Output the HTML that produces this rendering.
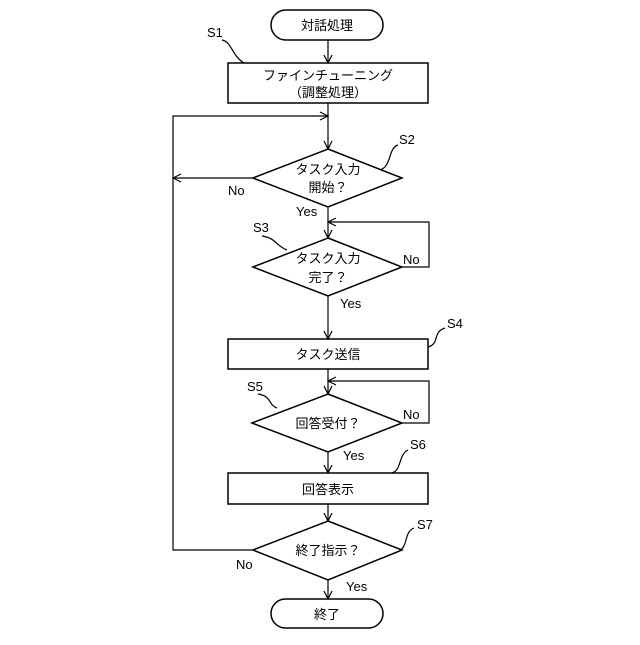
<!DOCTYPE html>
<html><head><meta charset="utf-8"><style>
body{margin:0;background:#fff}
svg text{font-family:"Liberation Sans","Noto Sans CJK JP",sans-serif;font-size:13px;fill:#000}
</style></head><body>
<svg width="640" height="640" viewBox="0 0 640 640" xmlns="http://www.w3.org/2000/svg">
<defs><marker id="a" markerWidth="10" markerHeight="10" refX="9" refY="5" orient="auto" markerUnits="userSpaceOnUse"><path d="M1,1 L9,5 L1,9" fill="none" stroke="#000" stroke-width="1.2"/></marker></defs>
<g fill="none" stroke="#000" stroke-width="1.5">
<rect x="271" y="10" width="112" height="30" rx="15"/>
<rect x="228" y="63" width="200" height="40"/>
<polygon points="328,149 402,178 328,207 253,178"/>
<polygon points="328,238 402,267 328,296 253,267"/>
<rect x="228" y="339" width="200" height="30"/>
<polygon points="328,394 402,423 328,452 252,423"/>
<rect x="228" y="473" width="200" height="31"/>
<polygon points="328,521 402,550 328,580 253,550"/>
<rect x="271" y="599" width="112" height="29" rx="14.5"/>
</g>
<g fill="none" stroke="#000" stroke-width="1.2">
<line x1="328" y1="40" x2="328" y2="63" marker-end="url(#a)"/>
<line x1="328" y1="103" x2="328" y2="149" marker-end="url(#a)"/>
<line x1="328" y1="207" x2="328" y2="238" marker-end="url(#a)"/>
<line x1="328" y1="296" x2="328" y2="339" marker-end="url(#a)"/>
<line x1="328" y1="369" x2="328" y2="394" marker-end="url(#a)"/>
<line x1="328" y1="452" x2="328" y2="473" marker-end="url(#a)"/>
<line x1="328" y1="504" x2="328" y2="521" marker-end="url(#a)"/>
<line x1="328" y1="580" x2="328" y2="599" marker-end="url(#a)"/>
<polyline points="253,550 173,550 173,116 328,116" marker-end="url(#a)"/>
<line x1="253" y1="178" x2="173" y2="178" marker-end="url(#a)"/>
<polyline points="402,267 429,267 429,222 328,222" marker-end="url(#a)"/>
<polyline points="402,423 429,423 429,381 328,381" marker-end="url(#a)"/>
<path d="M222,40 C232,42 232,56 244,63"/>
<path d="M398,145 C388,148 392,166 380,170"/>
<path d="M262,236 C276,238 276,246 287,250"/>
<path d="M445,328 C432,332 440,344 428,347"/>
<path d="M258,394 C272,396 268,405 277,408"/>
<path d="M408,450 C398,455 402,470 392,473"/>
<path d="M414,528 C404,532 408,546 400,550"/>
</g>
<g text-anchor="middle">
<text x="327" y="30">対話処理</text>
<text x="328" y="80">ファインチューニング</text>
<text x="328" y="97">（調整処理）</text>
<text x="328" y="174">タスク入力</text>
<text x="328" y="192">開始？</text>
<text x="328" y="263">タスク入力</text>
<text x="328" y="282">完了？</text>
<text x="328" y="359">タスク送信</text>
<text x="328" y="428">回答受付？</text>
<text x="328" y="494">回答表示</text>
<text x="328" y="555">終了指示？</text>
<text x="327" y="619">終了</text>
</g>
<g font-size="13">
<text x="207" y="37">S1</text>
<text x="399" y="144">S2</text>
<text x="253" y="232">S3</text>
<text x="447" y="328">S4</text>
<text x="247" y="391">S5</text>
<text x="410" y="449">S6</text>
<text x="417" y="529">S7</text>
<text x="228" y="195">No</text>
<text x="296" y="216">Yes</text>
<text x="403" y="264">No</text>
<text x="340" y="308">Yes</text>
<text x="403" y="419">No</text>
<text x="343" y="460">Yes</text>
<text x="236" y="569">No</text>
<text x="346" y="591">Yes</text>
</g>
</svg>
</body></html>
